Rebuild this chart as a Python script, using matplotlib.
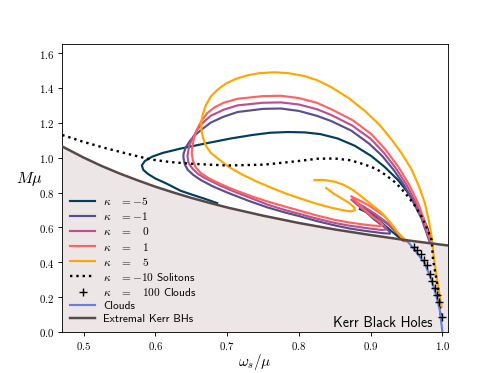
import matplotlib
matplotlib.use("Agg")
import matplotlib.pyplot as plt
from matplotlib.ticker import FuncFormatter

plt.rcParams['mathtext.fontset'] = 'cm'

# extremal Kerr line
kerr_w = [0.47, 0.5, 0.525, 0.55, 0.575, 0.6, 0.625, 0.65, 0.675, 0.7, 0.75, 0.8, 0.85,
          0.9, 0.95, 1.0, 1.01]
kerr_m = [1.064, 1.0, 0.952, 0.909, 0.87, 0.833, 0.8, 0.769, 0.741, 0.714, 0.667, 0.625,
          0.588, 0.556, 0.526, 0.5, 0.495]

# clouds line
cloud_w = [0.95, 0.9615, 0.9755, 0.985, 0.992, 0.9965, 1.0]
cloud_m = [0.526, 0.47, 0.393, 0.297, 0.2, 0.124, 0.0]

# kappa = 100 clouds (crosses)
k100_w = [0.96, 0.965, 0.9695, 0.974, 0.978, 0.9825, 0.986, 0.9895, 0.993, 0.9957, 0.999]
k100_m = [0.49, 0.468, 0.445, 0.415, 0.382, 0.33, 0.295, 0.25, 0.21, 0.172, 0.085]

# kappa = -10 solitons
sol_w = [0.47, 0.5, 0.53, 0.565, 0.593, 0.62, 0.65, 0.70, 0.752, 0.798, 0.826, 0.85,
         0.872, 0.892, 0.908, 0.92, 0.935, 0.948, 0.96, 0.971, 0.979, 0.985, 0.987,
         0.992, 0.995, 0.998]
sol_m = [1.13, 1.09, 1.055, 1.018, 0.99, 0.975, 0.965, 0.955, 0.96, 0.98, 0.994, 0.995,
         0.985, 0.96, 0.935, 0.903, 0.856, 0.797, 0.735, 0.662, 0.59, 0.528, 0.413,
         0.297, 0.2, 0.085]

# kappa = -5
km5_w = [0.984, 0.98, 0.972, 0.9615, 0.95, 0.938, 0.92, 0.901, 0.878, 0.854, 0.83, 0.808,
         0.785, 0.76, 0.735, 0.705, 0.668, 0.635, 0.61, 0.595, 0.585, 0.581, 0.583, 0.59,
         0.6, 0.615, 0.635, 0.65, 0.668, 0.686]
km5_m = [0.53, 0.586, 0.665, 0.74, 0.81, 0.872, 0.945, 1.009, 1.068, 1.11, 1.135, 1.145,
         1.147, 1.143, 1.13, 1.11, 1.08, 1.052, 1.027, 1.005, 0.98, 0.955, 0.93, 0.905,
         0.88, 0.852, 0.81, 0.789, 0.765, 0.739]
km5_in_w = [0.885, 0.9, 0.91, 0.929, 0.945]
km5_in_m = [0.705, 0.675, 0.645, 0.578, 0.525]

# kappa = -1
km1_w = [0.982, 0.978, 0.971, 0.96, 0.947, 0.932, 0.916, 0.898, 0.873, 0.845, 0.825, 0.8,
         0.775, 0.75, 0.7146, 0.695, 0.677, 0.664, 0.6536, 0.647, 0.642, 0.639, 0.639,
         0.641, 0.645, 0.653, 0.663, 0.68, 0.7, 0.73, 0.7565, 0.78, 0.8, 0.825, 0.85,
         0.87, 0.887, 0.905, 0.918, 0.927, 0.926, 0.918, 0.905, 0.893, 0.88, 0.895,
         0.91, 0.925, 0.935, 0.947]
km1_m = [0.52, 0.567, 0.65, 0.74, 0.84, 0.93, 1.01, 1.08, 1.155, 1.21, 1.24, 1.268,
         1.282, 1.28, 1.262, 1.235, 1.201, 1.16, 1.124, 1.09, 1.057, 1.02, 0.999,
         0.96, 0.93, 0.9, 0.872, 0.835, 0.8, 0.752, 0.714, 0.686, 0.665, 0.636, 0.611,
         0.594, 0.583, 0.573, 0.566, 0.564, 0.578, 0.605, 0.645, 0.69, 0.74, 0.7,
         0.66, 0.615, 0.575, 0.525]

# kappa = 0
k0_w = [0.983, 0.979, 0.972, 0.963, 0.95, 0.935, 0.918, 0.90, 0.874, 0.845, 0.825, 0.8,
        0.775, 0.75, 0.7146, 0.695, 0.677, 0.666, 0.6586, 0.652, 0.6468, 0.6446, 0.646,
        0.652, 0.66, 0.668, 0.69, 0.71, 0.735, 0.7565, 0.78, 0.8, 0.825, 0.85, 0.87,
        0.887, 0.905, 0.916, 0.922, 0.92, 0.912, 0.9, 0.887, 0.873, 0.89, 0.907,
        0.925, 0.937, 0.946]
k0_m = [0.52, 0.567, 0.65, 0.74, 0.845, 0.94, 1.03, 1.108, 1.185, 1.245, 1.278, 1.305,
        1.317, 1.315, 1.3, 1.275, 1.24, 1.2, 1.163, 1.115, 1.066, 1.009, 0.97,
        0.935, 0.905, 0.885, 0.84, 0.805, 0.765, 0.73, 0.7, 0.678, 0.65, 0.625, 0.61,
        0.6, 0.59, 0.585, 0.588, 0.605, 0.63, 0.67, 0.71, 0.759, 0.72, 0.675,
        0.62, 0.57, 0.525]

# kappa = 1
k1_w = [0.984, 0.98, 0.974, 0.966, 0.953, 0.938, 0.92, 0.901, 0.875, 0.845, 0.825, 0.8,
        0.775, 0.75, 0.7146, 0.695, 0.682, 0.672, 0.6656, 0.66, 0.656, 0.653, 0.6516,
        0.6505, 0.652, 0.656, 0.663, 0.675, 0.69, 0.71, 0.735, 0.7565, 0.78, 0.8, 0.825,
        0.85, 0.87, 0.887, 0.903, 0.913, 0.917, 0.912, 0.903, 0.89, 0.873, 0.896, 0.92,
        0.938, 0.948]
k1_m = [0.52, 0.567, 0.65, 0.74, 0.85, 0.951, 1.05, 1.135, 1.215, 1.278, 1.315, 1.342,
        1.355, 1.353, 1.338, 1.315, 1.288, 1.255, 1.22, 1.18, 1.144, 1.1, 1.066,
        1.03, 0.985, 0.945, 0.913, 0.88, 0.85, 0.815, 0.777, 0.748, 0.72, 0.697, 0.668,
        0.643, 0.628, 0.618, 0.61, 0.608, 0.615, 0.635, 0.66, 0.705, 0.778, 0.73, 0.662,
        0.567, 0.52]

# kappa = 5
k5_w = [0.999, 0.9965, 0.992, 0.988, 0.985, 0.981, 0.9755, 0.967, 0.957, 0.944, 0.929,
        0.912, 0.892, 0.87, 0.845, 0.825, 0.808, 0.785, 0.765, 0.745, 0.728, 0.712,
        0.698, 0.6866, 0.677, 0.67, 0.666, 0.664, 0.664, 0.6656, 0.67, 0.677, 0.69,
        0.703, 0.72, 0.74, 0.76, 0.78, 0.803, 0.825, 0.845, 0.862, 0.872, 0.878, 0.877,
        0.87, 0.86, 0.848, 0.838]
k5_m = [0.143, 0.2, 0.316, 0.43, 0.547, 0.64, 0.74, 0.84, 0.932, 1.02, 1.105,
        1.19, 1.268, 1.34, 1.405, 1.445, 1.468, 1.485, 1.49, 1.485, 1.472, 1.452,
        1.425, 1.39, 1.35, 1.30, 1.25, 1.21, 1.16, 1.124, 1.07, 1.028, 0.985,
        0.945, 0.905, 0.865, 0.83, 0.797, 0.764, 0.735, 0.713, 0.698, 0.692, 0.698, 0.715,
        0.74, 0.765, 0.795, 0.826]
k5_in_w = [0.822, 0.835, 0.85, 0.862, 0.875, 0.887, 0.9, 0.915, 0.927, 0.938, 0.95]
k5_in_m = [0.872, 0.872, 0.862, 0.845, 0.815, 0.778, 0.735, 0.685, 0.63, 0.57, 0.52]

labels = [r'$\kappa\quad=-5$', r'$\kappa\quad=-1$', r'$\kappa\quad=\ \ \ 0$',
          r'$\kappa\quad=\ \ \ 1$', r'$\kappa\quad=\ \ \ 5$']
colors = ['#003f5c', '#58508d', '#bc5090', '#ff6361', '#ffa600']

fig, ax = plt.subplots(figsize=(6.4, 4.8), dpi=77.8)

ax.fill_between(kerr_w, 0, kerr_m, color='#ede6e6', zorder=0)

lw = 2
ax.plot(km5_w, km5_m, color=colors[0], lw=lw, label=labels[0])
ax.plot(km5_in_w, km5_in_m, color=colors[0], lw=lw)
ax.plot(km1_w, km1_m, color=colors[1], lw=lw, label=labels[1])
ax.plot(k0_w, k0_m, color=colors[2], lw=lw, label=labels[2])
ax.plot(k1_w, k1_m, color=colors[3], lw=lw, label=labels[3])
ax.plot(k5_w, k5_m, color=colors[4], lw=lw, label=labels[4])
ax.plot(k5_in_w, k5_in_m, color=colors[4], lw=lw)
ax.plot(sol_w, sol_m, ':', color='black', lw=2.2, label=r'$\kappa\quad=-10$ Solitons')
ax.plot(k100_w, k100_m, '+', color='black', ms=7, mew=1.3, zorder=5,
        label=r'$\kappa\quad=\ \ \ 100$ Clouds')
ax.plot(cloud_w, cloud_m, color='#6a80dc', lw=lw, label='Clouds', zorder=4)
ax.plot(kerr_w, kerr_m, color='#5a4848', lw=2.3, label='Extremal Kerr BHs', zorder=4)

ax.text(0.986, 0.012, 'Kerr Black Holes', family='cmss10', fontsize=13,
        ha='right', va='bottom')

ax.set_xlim(0.47, 1.008)
ax.set_ylim(0, 1.65)
ax.set_xticks([0.5, 0.6, 0.7, 0.8, 0.9, 1.0])
ax.set_yticks([0.0, 0.2, 0.4, 0.6, 0.8, 1.0, 1.2, 1.4, 1.6])
fmt = FuncFormatter(lambda v, p: '$%.1f$' % v)
ax.xaxis.set_major_formatter(fmt)
ax.yaxis.set_major_formatter(fmt)
ax.tick_params(labelsize=10)
ax.set_xlabel(r'$\omega_s/\mu$', fontsize=14, labelpad=0)
ax.set_ylabel(r'$M\mu$', fontsize=15, rotation=0, ha='center', va='center')
ax.yaxis.set_label_coords(-0.085, 0.535)

ax.legend(loc='lower left', frameon=False, handlelength=2.2, labelspacing=0.28,
          borderaxespad=0.3, handletextpad=0.7,
          prop={'family': 'cmss10', 'size': 10.5})

plt.savefig('out.png', dpi=77.8)
